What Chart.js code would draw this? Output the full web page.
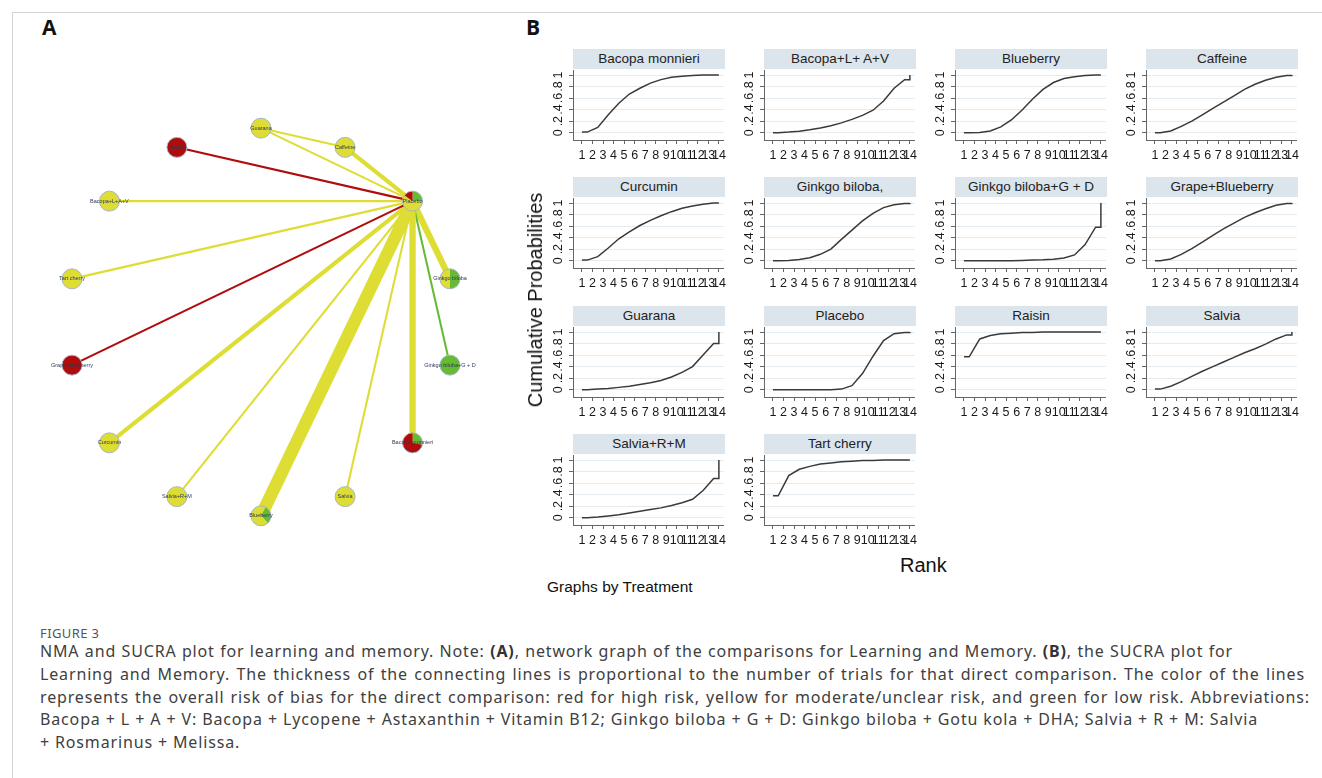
<!DOCTYPE html>
<html>
<head>
<meta charset="utf-8">
<title>NMA and SUCRA plot for learning and memory</title>
<script src="https://cdn.jsdelivr.net/npm/chart.js@4.4.1/dist/chart.umd.min.js"></script>
<style>
  body { margin: 0; background: #fff; width: 1322px; height: 778px; overflow: hidden; position: relative;
         font-family: "Liberation Sans", Arial, sans-serif; }
  .frame-top { position: absolute; left: 12px; top: 12px; width: 1310px; height: 1px; background: #d4d4d4; }
  .frame-left { position: absolute; left: 12px; top: 12px; width: 1px; height: 766px; background: #d4d4d4; }
  .letter { position: absolute; font-family: "Open Sans", sans-serif; font-weight: 700; font-size: 21px; color: #111; line-height: 1; }
  .strip { position: absolute; width: 152px; height: 20px; background: #dce4ec; font-size: 13.5px; line-height: 20px;
           text-align: center; color: #222; white-space: nowrap; }
  canvas { position: absolute; }
  .axis-title { position: absolute; font-size: 20px; color: #111; white-space: nowrap; line-height: 1; }
  .fig-label { position: absolute; left: 40px; top: 624px; font-family: "Noto Sans", sans-serif; font-size: 13px; color: #555; letter-spacing: 0.4px; }
  .caption { position: absolute; left: 40px; top: 640px; font-family: "Noto Sans", sans-serif; font-size: 16px; line-height: 22.8px;
             color: #404040; letter-spacing: 0.85px; }
  .caption div { white-space: nowrap; text-align: justify; text-align-last: justify; }
  .caption div.last { text-align-last: left; }
  .caption b { font-weight: 700; color: #333; }
</style>
</head>
<body>
<div class="frame-top"></div>
<div class="frame-left"></div>
<div class="letter" style="left:42px;top:17px">A</div>
<div class="letter" style="left:526px;top:17px">B</div>
<canvas id="network" width="504" height="504" style="left:9px;top:70px"></canvas>
<div id="panels"></div>
<div class="axis-title" style="left:535px;top:300px;transform:translate(-50%,-50%) rotate(-90deg)">Cumulative Probabilities</div>
<div class="axis-title" style="left:900px;top:555px">Rank</div>
<div class="axis-title" style="left:547px;top:579px;font-size:15.5px">Graphs by Treatment</div>
<div class="fig-label">FIGURE 3</div>
<div class="caption">
  <div style="width:1193px">NMA and SUCRA plot for learning and memory. Note: <b>(A)</b>, network graph of the comparisons for Learning and Memory. <b>(B)</b>, the SUCRA plot for</div>
  <div style="width:1265px">Learning and Memory. The thickness of the connecting lines is proportional to the number of trials for that direct comparison. The color of the lines</div>
  <div style="width:1270px">represents the overall risk of bias for the direct comparison: red for high risk, yellow for moderate/unclear risk, and green for low risk. Abbreviations:</div>
  <div style="width:1218px">Bacopa + L + A + V: Bacopa + Lycopene + Astaxanthin + Vitamin B12; Ginkgo biloba + G + D: Ginkgo biloba + Gotu kola + DHA; Salvia + R + M: Salvia</div>
  <div class="last">+ Rosmarinus + Melissa.</div>
</div>
<script>
// ---- panel A: network ----
const nodeNames = ['Guarana', 'Caffeine', 'Placebo', 'Ginkgo biloba', 'Ginkgo biloba+G + D', 'Bacopa monnieri', 'Salvia',
  'Blueberry', 'Salvia+R+M', 'Curcumin', 'Grape+Blueberry', 'Tart cherry', 'Bacopa+L+A+V', 'Raisin'];
// share of each risk-of-bias class per node, clockwise from 12 o'clock
const nodeShares = [
  [['moderate', 1]],
  [['moderate', 1]],
  [['low', 0.25], ['moderate', 0.6], ['high', 0.15]],
  [['low', 0.5], ['moderate', 0.5]],
  [['low', 1]],
  [['low', 0.28], ['high', 0.72]],
  [['moderate', 1]],
  [['moderate', 0.08], ['low', 0.3], ['moderate', 0.62]],
  [['moderate', 1]],
  [['moderate', 1]],
  [['high', 1]],
  [['moderate', 1]],
  [['moderate', 1]],
  [['high', 1]]
];
const edgeFrom = ['Guarana', 'Guarana', 'Caffeine', 'Raisin', 'Bacopa+L+A+V', 'Tart cherry', 'Grape+Blueberry', 'Curcumin',
  'Salvia+R+M', 'Blueberry', 'Salvia', 'Bacopa monnieri', 'Ginkgo biloba+G + D', 'Ginkgo biloba'];
const edgeTo = ['Caffeine', 'Placebo', 'Placebo', 'Placebo', 'Placebo', 'Placebo', 'Placebo', 'Placebo',
  'Placebo', 'Placebo', 'Placebo', 'Placebo', 'Placebo', 'Placebo'];
const edgeTrials = [1, 1, 2, 1, 1, 1, 1, 2, 1, 6, 1, 3, 1, 3];
const edgeRisk = ['moderate', 'moderate', 'moderate', 'high', 'moderate', 'moderate', 'high', 'moderate',
  'moderate', 'moderate', 'moderate', 'moderate', 'low', 'moderate'];
const riskColors = { high: '#b00c0c', moderate: '#dedd33', low: '#66bb33' };

// ---- panel B: cumulative rank probabilities (ranks 1..14) ----
const ranks = [1, 2, 3, 4, 5, 6, 7, 8, 9, 10, 11, 12, 13, 14];
const yTicks = [0, 0.2, 0.4, 0.6, 0.8, 1];
const yTickLabels = ['0', '.2', '.4', '.6', '.8', '1'];
const treatments = ['Bacopa monnieri', 'Bacopa+L+ A+V', 'Blueberry', 'Caffeine', 'Curcumin', 'Ginkgo biloba,',
  'Ginkgo biloba+G + D', 'Grape+Blueberry', 'Guarana', 'Placebo', 'Raisin', 'Salvia', 'Salvia+R+M', 'Tart cherry'];
const cumBacopaMonnieri = [0.01, 0.09, 0.31, 0.51, 0.67, 0.77, 0.86, 0.92, 0.96, 0.98, 0.99, 1, 1, 1];
const cumBacopaLAV = [0, 0.01, 0.025, 0.05, 0.08, 0.12, 0.17, 0.23, 0.3, 0.39, 0.55, 0.77, 0.92, 1];
const cumBlueberry = [0, 0.005, 0.03, 0.1, 0.22, 0.39, 0.58, 0.75, 0.87, 0.94, 0.97, 0.99, 1, 1];
const cumCaffeine = [0, 0.03, 0.11, 0.2, 0.31, 0.42, 0.53, 0.64, 0.75, 0.84, 0.91, 0.96, 0.99, 1];
const cumCurcumin = [0.01, 0.07, 0.22, 0.38, 0.5, 0.61, 0.7, 0.78, 0.85, 0.91, 0.95, 0.98, 1, 1];
const cumGinkgo = [0, 0.005, 0.02, 0.05, 0.11, 0.2, 0.37, 0.53, 0.69, 0.82, 0.92, 0.97, 0.99, 1];
const cumGinkgoGD = [0, 0, 0, 0, 0, 0.005, 0.01, 0.015, 0.025, 0.045, 0.1, 0.28, 0.58, 1];
const cumGrapeBlueberry = [0, 0.03, 0.11, 0.21, 0.32, 0.44, 0.55, 0.65, 0.75, 0.83, 0.9, 0.96, 0.99, 1];
const cumGuarana = [0, 0.01, 0.02, 0.04, 0.06, 0.09, 0.12, 0.16, 0.22, 0.3, 0.4, 0.6, 0.8, 1];
const cumPlacebo = [0, 0, 0, 0, 0, 0, 0.01, 0.07, 0.28, 0.58, 0.85, 0.97, 0.99, 1];
const cumRaisin = [0.57, 0.88, 0.94, 0.97, 0.98, 0.99, 0.99, 1, 1, 1, 1, 1, 1, 1];
const cumSalvia = [0.01, 0.06, 0.14, 0.23, 0.32, 0.4, 0.48, 0.56, 0.64, 0.71, 0.79, 0.88, 0.95, 1];
const cumSalviaRM = [0, 0.01, 0.03, 0.05, 0.08, 0.11, 0.14, 0.17, 0.21, 0.26, 0.32, 0.47, 0.68, 1];
const cumTartCherry = [0.38, 0.73, 0.84, 0.89, 0.93, 0.95, 0.97, 0.98, 0.99, 0.99, 1, 1, 1, 1];
const sucraSeries = [cumBacopaMonnieri, cumBacopaLAV, cumBlueberry, cumCaffeine, cumCurcumin, cumGinkgo,
  cumGinkgoGD, cumGrapeBlueberry, cumGuarana, cumPlacebo, cumRaisin, cumSalvia, cumSalviaRM, cumTartCherry];

const FONT = '"Liberation Sans", Arial, sans-serif';

// circular layout, first node at the top, going clockwise
const nodePos = nodeNames.map((n, i) => {
  const a = Math.PI / 2 - i * 2 * Math.PI / nodeNames.length;
  return { x: Math.cos(a), y: Math.sin(a) };
});

const nodePlugin = {
  id: 'nodes',
  afterDatasetsDraw(chart) {
    const { ctx, scales: { x, y } } = chart;
    const r = 10;
    nodeNames.forEach((name, i) => {
      const px = x.getPixelForValue(nodePos[i].x), py = y.getPixelForValue(nodePos[i].y);
      let start = -Math.PI / 2;
      nodeShares[i].forEach(([risk, share]) => {
        const end = start + share * 2 * Math.PI;
        ctx.beginPath();
        ctx.moveTo(px, py);
        ctx.arc(px, py, r, start, end);
        ctx.closePath();
        ctx.fillStyle = riskColors[risk];
        ctx.fill();
        start = end;
      });
      ctx.beginPath();
      ctx.arc(px, py, r, 0, 2 * Math.PI);
      ctx.strokeStyle = '#a8b6c8';
      ctx.lineWidth = 1;
      ctx.stroke();
      ctx.font = '5.5px ' + FONT;
      ctx.fillStyle = '#2c3a56';
      ctx.textAlign = 'center';
      ctx.textBaseline = 'middle';
      ctx.fillText(name, px, py);
    });
  }
};

new Chart(document.getElementById('network'), {
  type: 'scatter',
  data: {
    datasets: edgeFrom.map((f, k) => ({
      data: [nodePos[nodeNames.indexOf(f)], nodePos[nodeNames.indexOf(edgeTo[k])]],
      showLine: true,
      borderColor: riskColors[edgeRisk[k]],
      borderWidth: edgeTrials[k] * 2.1,
      borderCapStyle: 'butt',
      pointRadius: 0
    }))
  },
  options: {
    responsive: false, animation: false,
    layout: { padding: 0 },
    plugins: { legend: { display: false }, tooltip: { enabled: false } },
    scales: {
      x: { display: false, min: -1.3, max: 1.3 },
      y: { display: false, min: -1.3, max: 1.3 }
    }
  },
  plugins: [nodePlugin]
});

// rotated y tick labels, as in the Stata graph
const yLabelPlugin = {
  id: 'ylabels',
  afterDraw(chart) {
    const { ctx, scales: { y } } = chart;
    ctx.save();
    ctx.font = '12.5px ' + FONT;
    ctx.fillStyle = '#1a1a1a';
    ctx.textAlign = 'center';
    ctx.textBaseline = 'middle';
    yTicks.forEach((v, i) => {
      ctx.save();
      ctx.translate(y.right - 14, y.getPixelForValue(v));
      ctx.rotate(-Math.PI / 2);
      ctx.fillText(yTickLabels[i], 0, 0);
      ctx.restore();
    });
    ctx.restore();
  }
};

const panels = document.getElementById('panels');
const rowTops = [69, 197, 326, 454];
treatments.forEach((name, idx) => {
  const col = idx % 4, row = Math.floor(idx / 4);
  const ox = 191 * col, top = rowTops[row];

  const strip = document.createElement('div');
  strip.className = 'strip';
  strip.style.left = (573 + ox) + 'px';
  strip.style.top = (top - 20) + 'px';
  strip.textContent = name;
  panels.appendChild(strip);

  const cv = document.createElement('canvas');
  cv.width = 190; cv.height = 100;
  cv.style.left = (540 + ox) + 'px';
  cv.style.top = top + 'px';
  panels.appendChild(cv);

  const v = sucraSeries[idx];
  // Stata draws each cumulative value across half-rank steps
  const pts = [{ x: ranks[0], y: v[0] }]
    .concat(v.slice(0, 13).map((p, i) => ({ x: ranks[i] + 0.5, y: p })))
    .concat([{ x: ranks[13], y: v[12] }, { x: ranks[13], y: v[13] }]);

  new Chart(cv, {
    type: 'scatter',
    data: { datasets: [{ data: pts, showLine: true, borderColor: '#3a3a3a', borderWidth: 1.5, pointRadius: 0, tension: 0 }] },
    options: {
      responsive: false, animation: false,
      layout: { padding: { top: 1, right: 5, bottom: 0, left: 0 } },
      plugins: { legend: { display: false }, tooltip: { enabled: false } },
      scales: {
        x: {
          type: 'linear', min: 0.15, max: 14.47,
          afterBuildTicks: s => { s.ticks = ranks.map(r => ({ value: r })); },
          afterFit: s => { s.height = 29; },
          ticks: { autoSkip: false, maxRotation: 0, minRotation: 0, padding: 4, color: '#1a1a1a', font: { family: FONT, size: 12.5 } },
          grid: { drawOnChartArea: false, tickLength: 4, tickColor: '#666' },
          border: { color: '#666', width: 1 }
        },
        y: {
          type: 'linear', min: -0.127, max: 1.087,
          afterBuildTicks: s => { s.ticks = yTicks.map(t => ({ value: t })); },
          afterFit: s => { s.width = 33; },
          ticks: { display: false },
          grid: { color: '#e4ebf1', tickLength: 4, tickColor: '#666' },
          border: { color: '#666', width: 1 }
        }
      }
    },
    plugins: [yLabelPlugin]
  });
});
</script>
</body>
</html>
